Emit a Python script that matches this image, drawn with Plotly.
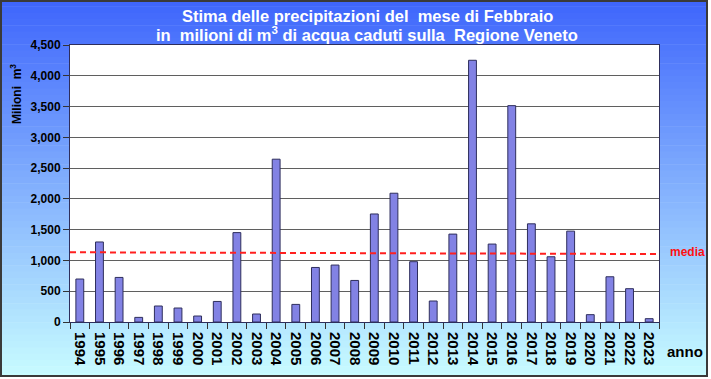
import plotly.graph_objects as go

years = [str(y) for y in range(1994, 2024)]
values = [698, 1300, 724, 75, 260, 227, 97, 334, 1452, 130,
          2645, 286, 886, 925, 675, 1755, 2092, 980, 341, 1428,
          4252, 1266, 3515, 1595, 1060, 1476, 119, 735, 541, 54]
media = [1133, 1104]  # mean line at left / right edge

W, H = 711, 379
ML, MR, MT, MB = 70, 52, 45, 57
PW, PH = W - ML - MR, H - MT - MB

def px(x):
    return (x - ML) / PW

def py(y):
    return (H - MB - y) / PH

font = "Arial, Liberation Sans, sans-serif"

fig = go.Figure()
fig.add_trace(go.Bar(
    x=years, y=values,
    marker=dict(color="#8282E4", line=dict(color="#2E2E5C", width=1)),
    width=0.40,
))

shapes = []
# gradient background
top = (63, 102, 252)
bot = (200, 252, 255)
n = 60
for i in range(n):
    t = i / (n - 1)
    c = tuple(int(round(top[k] + (bot[k] - top[k]) * t)) for k in range(3))
    y0 = H * i / n
    y1 = H * (i + 1) / n + 0.5
    shapes.append(dict(type="rect", xref="paper", yref="paper",
                       x0=px(0), x1=px(W), y0=py(y1), y1=py(y0),
                       fillcolor="rgb(%d,%d,%d)" % c, line=dict(width=0), layer="below"))
# white plot area
shapes.append(dict(type="rect", xref="paper", yref="paper", x0=0, x1=1, y0=0, y1=1,
                   fillcolor="white", line=dict(width=0), layer="below"))
# figure border
shapes.append(dict(type="rect", xref="paper", yref="paper",
                   x0=px(1), x1=px(707), y0=py(376), y1=py(1),
                   line=dict(color="#3a3a3a", width=2), layer="above"))
# white outside border
shapes.append(dict(type="rect", xref="paper", yref="paper",
                   x0=px(708), x1=px(W + 2), y0=py(H + 2), y1=py(-2),
                   fillcolor="white", line=dict(width=0), layer="above"))
shapes.append(dict(type="rect", xref="paper", yref="paper",
                   x0=px(-2), x1=px(W + 2), y0=py(H + 2), y1=py(377),
                   fillcolor="white", line=dict(width=0), layer="above"))
# media line
shapes.append(dict(type="line", xref="paper", yref="y", x0=0, x1=1,
                   y0=media[0], y1=media[1],
                   line=dict(color="#FF2020", width=2, dash="6px,4px"), layer="above"))

annotations = [
    dict(text="<b>Stima delle precipitazioni del  mese di Febbraio</b>",
         xref="paper", yref="paper", x=px(367), y=py(16), showarrow=False,
         font=dict(family=font, size=16.5, color="white"), xanchor="center", yanchor="middle"),
    dict(text="<b>in  milioni di m<sup>3</sup> di acqua caduti sulla  Regione Veneto</b>",
         xref="paper", yref="paper", x=px(367), y=py(34), showarrow=False,
         font=dict(family=font, size=16.5, color="white"), xanchor="center", yanchor="middle"),
    dict(text="<b>Milioni  m<sup>3</sup></b>", textangle=-90,
         xref="paper", yref="paper", x=px(16), y=py(94), showarrow=False,
         font=dict(family=font, size=12, color="black"), xanchor="center", yanchor="middle"),
    dict(text="<b>media</b>",
         xref="paper", yref="paper", x=px(687), y=py(252), showarrow=False,
         font=dict(family=font, size=12, color="#FF1010"), xanchor="center", yanchor="middle"),
    dict(text="<b>anno</b>",
         xref="paper", yref="paper", x=px(685), y=py(351), showarrow=False,
         font=dict(family=font, size=15, color="black"), xanchor="center", yanchor="middle"),
]

fig.update_layout(
    width=W, height=H,
    margin=dict(l=ML, r=MR, t=MT, b=MB, pad=0),
    paper_bgcolor="white",
    plot_bgcolor="rgba(0,0,0,0)",
    showlegend=False,
    shapes=shapes,
    annotations=annotations,
    font=dict(family=font, color="black"),
    xaxis=dict(
        type="category", tickangle=90, tickson="boundaries",
        ticks="outside", ticklen=6, tickcolor="#333",
        ticklabelstandoff=6,
        tickfont=dict(family=font, size=15, color="black", weight="bold"),
        showline=True, linecolor="#2E2E5C", linewidth=1, mirror=True,
        showgrid=False,
    ),
    yaxis=dict(
        range=[0, 4500], dtick=500, tickformat=",",
        ticks="outside", ticklen=6, tickcolor="#333",
        tickfont=dict(family=font, size=12, color="black", weight="bold"),
        showline=True, linecolor="#2E2E5C", linewidth=1, mirror=True,
        showgrid=True, gridcolor="#5f5f5f", gridwidth=1,
        zeroline=False,
    ),
)

fig.write_html("out.html")
